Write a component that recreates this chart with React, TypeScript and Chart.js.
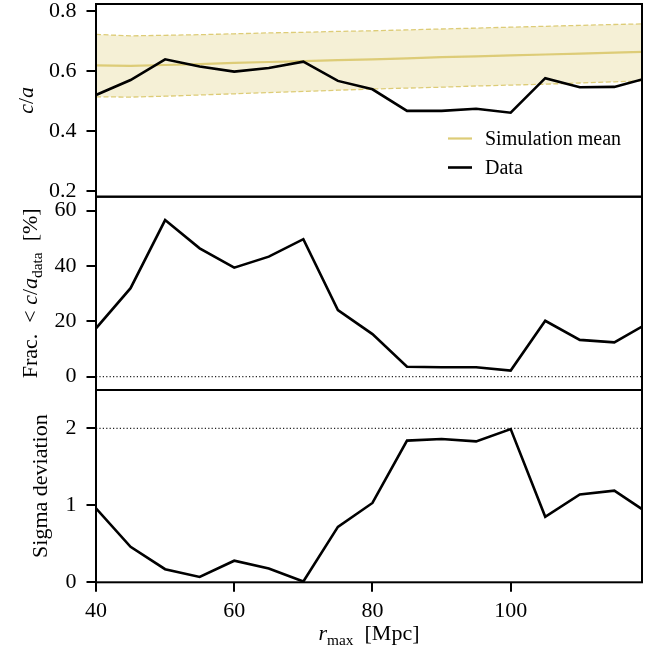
import React, { useEffect, useRef } from "react";
import { Chart, registerables } from "chart.js";

Chart.register(...registerables);

// ---------------- data ----------------
const rMax = [40, 45, 50, 55, 60, 65, 70, 75, 80, 85, 90, 95, 100, 105, 110, 115, 119];
const dataCA = [0.52, 0.57, 0.639, 0.615, 0.598, 0.61, 0.631, 0.567, 0.539, 0.467, 0.467, 0.474, 0.461, 0.576, 0.546, 0.547, 0.572];
const simMean = [0.619, 0.617, 0.62, 0.623, 0.627, 0.63, 0.633, 0.636, 0.639, 0.642, 0.646, 0.649, 0.652, 0.655, 0.658, 0.661, 0.664];
const simUpper = [0.722, 0.717, 0.719, 0.721, 0.724, 0.727, 0.729, 0.732, 0.734, 0.737, 0.74, 0.743, 0.746, 0.749, 0.752, 0.755, 0.757];
const simLower = [0.514, 0.513, 0.516, 0.52, 0.524, 0.528, 0.532, 0.536, 0.54, 0.543, 0.546, 0.55, 0.553, 0.556, 0.56, 0.564, 0.567];
const fracBelow = [17.5, 32, 56.6, 46.4, 39.4, 43.4, 49.7, 24.1, 15.4, 3.6, 3.4, 3.4, 2.2, 20.2, 13.3, 12.4, 18.1];
const sigmaDev = [0.96, 0.46, 0.17, 0.07, 0.28, 0.18, 0.01, 0.72, 1.03, 1.84, 1.86, 1.83, 1.99, 0.85, 1.14, 1.19, 0.95];
const fracRef = 0;
const sigmaRef = 2;

const xTicks = [40, 60, 80, 100];
const caTicks = [0.2, 0.4, 0.6, 0.8];
const fracTicks = [0, 20, 40, 60];
const sigmaTicks = [0, 1, 2];
const legendLabels = ["Simulation mean", "Data"];

// ---------------- style ----------------
const SERIF = '"Liberation Serif", "Times New Roman", serif';
const GOLD = "#DDCC77";
const GOLD_FILL = "rgba(221,204,119,0.3)";
const W = 660;
const PLOT_RIGHT = 642;
const AXIS_W = 96;
const TICK_FONT = 22;
const TITLE_FONT = 22;
const SUB_FONT = 15.4;
const LEGEND_FONT = 20;

type Seg = { t: string; size?: number; italic?: boolean; dy?: number };

function fontOf(s: Seg) {
  return `${s.italic ? "italic " : ""}${s.size || TITLE_FONT}px ${SERIF}`;
}

function drawRich(ctx: CanvasRenderingContext2D, segs: Seg[], cx: number, cy: number, vertical: boolean) {
  ctx.save();
  ctx.translate(cx, cy);
  if (vertical) ctx.rotate(-Math.PI / 2);
  let total = 0;
  const widths = segs.map((s) => {
    ctx.font = fontOf(s);
    const w = ctx.measureText(s.t).width;
    total += w;
    return w;
  });
  let x = -total / 2;
  ctx.fillStyle = "#000";
  ctx.textBaseline = "alphabetic";
  ctx.textAlign = "left";
  segs.forEach((s, i) => {
    ctx.font = fontOf(s);
    ctx.fillText(s.t, x, s.dy || 0);
    x += widths[i];
  });
  ctx.restore();
}

const pts = (ys: number[]) => rMax.map((x, i) => ({ x, y: ys[i] }));
const refLine = (v: number) => [
  { x: rMax[0], y: v },
  { x: rMax[rMax.length - 1], y: v },
];

interface PanelSpec {
  top: number;
  height: number;
  areaTop: number; // page y of chart area top
  areaBottom: number; // page y of chart area bottom
  yMin: number;
  yMax: number;
  yTicks: number[];
  yFmt: (v: number) => string;
  datasets: any[];
  yTitle: Seg[];
  yTitleX: number; // baseline x
  showX: boolean;
  legend?: boolean;
}

const panels: PanelSpec[] = [
  {
    top: 0,
    height: 215,
    areaTop: 4,
    areaBottom: 196.7,
    yMin: 0.181,
    yMax: 0.8233,
    yTicks: caTicks,
    yFmt: (v) => v.toFixed(1),
    datasets: [
      { label: "Data", data: pts(dataCA), borderColor: "#000", borderWidth: 2.6, order: 0, fill: false },
      { label: "Simulation mean", data: pts(simMean), borderColor: GOLD, borderWidth: 2.2, order: 1, fill: false },
      {
        label: "upper",
        data: pts(simUpper),
        borderColor: GOLD,
        borderWidth: 1.3,
        borderDash: [5, 2.5],
        fill: "+1",
        backgroundColor: GOLD_FILL,
        order: 2,
      },
      { label: "lower", data: pts(simLower), borderColor: GOLD, borderWidth: 1.3, borderDash: [5, 2.5], fill: false, order: 3 },
    ],
    yTitle: [{ t: "c", italic: true }, { t: "/" }, { t: "a", italic: true }],
    yTitleX: 33,
    showX: false,
    legend: true,
  },
  {
    top: 186,
    height: 214,
    areaTop: 196.7,
    areaBottom: 390,
    yMin: -4.81,
    yMax: 65.06,
    yTicks: fracTicks,
    yFmt: (v) => String(v),
    datasets: [
      { label: "frac", data: pts(fracBelow), borderColor: "#000", borderWidth: 2.6, order: 0, fill: false },
      { label: "ref", data: refLine(fracRef), borderColor: "#222", borderWidth: 1.2, borderDash: [1.2, 2.2], order: 1, fill: false },
    ],
    yTitle: [
      { t: "Frac.  " },
      { t: "<" },
      { t: " " },
      { t: "c", italic: true },
      { t: "/" },
      { t: "a", italic: true },
      { t: "data", size: SUB_FONT, dy: 4.5 },
      { t: "  [%]" },
    ],
    yTitleX: 37,
    showX: false,
  },
  {
    top: 380,
    height: 271,
    areaTop: 390,
    areaBottom: 582.3,
    yMin: 0,
    yMax: 2.497,
    yTicks: sigmaTicks,
    yFmt: (v) => String(v),
    datasets: [
      { label: "sigma", data: pts(sigmaDev), borderColor: "#000", borderWidth: 2.6, order: 0, fill: false },
      { label: "ref", data: refLine(sigmaRef), borderColor: "#222", borderWidth: 1.2, borderDash: [1.2, 2.2], order: 1, fill: false },
    ],
    yTitle: [{ t: "Sigma deviation" }],
    yTitleX: 47,
    showX: true,
  },
];

const xTitle: Seg[] = [{ t: "r", italic: true }, { t: "max", size: SUB_FONT, dy: 4.5 }, { t: "  [Mpc]" }];

function makeChart(canvas: HTMLCanvasElement, p: PanelSpec) {
  const padTop = p.areaTop - p.top;
  const areaBottomLocal = p.areaBottom - p.top;
  const xAxisH = p.showX ? p.height - areaBottomLocal : 0;
  const padBottom = p.showX ? 0 : p.height - areaBottomLocal;

  const decor = {
    id: "decor",
    afterDraw(chart: any) {
      const ctx: CanvasRenderingContext2D = chart.ctx;
      const a = chart.chartArea;
      ctx.save();
      ctx.strokeStyle = "#000";
      ctx.lineWidth = 2;
      ctx.strokeRect(a.left, a.top, a.right - a.left, a.bottom - a.top);
      ctx.restore();
      drawRich(ctx, p.yTitle, p.yTitleX, (a.top + a.bottom) / 2, true);
      if (p.showX) {
        drawRich(ctx, xTitle, (a.left + a.right) / 2, 640 - p.top, false);
      }
      if (p.legend) {
        const rows = [138.5, 167.5];
        legendLabels.forEach((lab, i) => {
          const ds = chart.data.datasets.find((d: any) => d.label === lab);
          const y = rows[i] - p.top;
          ctx.save();
          ctx.strokeStyle = ds.borderColor;
          ctx.lineWidth = ds.borderWidth;
          ctx.beginPath();
          ctx.moveTo(448, y);
          ctx.lineTo(472, y);
          ctx.stroke();
          ctx.fillStyle = "#000";
          ctx.font = `${LEGEND_FONT}px ${SERIF}`;
          ctx.textBaseline = "middle";
          ctx.textAlign = "left";
          ctx.fillText(lab, 485, y + 1);
          ctx.restore();
        });
      }
    },
  };

  return new Chart(canvas, {
    type: "line",
    data: { datasets: p.datasets },
    plugins: [decor],
    options: {
      responsive: false,
      animation: false,
      devicePixelRatio: 1,
      layout: { padding: { left: 0, right: W - PLOT_RIGHT, top: padTop, bottom: padBottom } },
      elements: { point: { radius: 0 }, line: { tension: 0 } },
      plugins: { legend: { display: false }, tooltip: { enabled: false } },
      scales: {
        x: {
          type: "linear",
          min: rMax[0],
          max: rMax[rMax.length - 1],
          display: p.showX,
          afterBuildTicks: (axis: any) => {
            axis.ticks = xTicks.map((v) => ({ value: v }));
          },
          afterFit: (axis: any) => {
            axis.height = xAxisH;
            axis.paddingLeft = 0;
            axis.paddingRight = 0;
          },
          ticks: {
            font: { family: SERIF, size: TICK_FONT },
            color: "#000",
            padding: 6,
            maxRotation: 0,
            autoSkip: false,
            callback: (v: any) => String(v),
          },
          grid: { drawOnChartArea: false, drawTicks: true, tickLength: 9.5, color: "#000", lineWidth: 2 },
          border: { display: false },
        },
        y: {
          type: "linear",
          min: p.yMin,
          max: p.yMax,
          afterBuildTicks: (axis: any) => {
            axis.ticks = p.yTicks.map((v) => ({ value: v }));
          },
          afterFit: (axis: any) => {
            axis.width = AXIS_W;
            axis.paddingTop = 0;
            axis.paddingBottom = 0;
          },
          ticks: {
            font: { family: SERIF, size: TICK_FONT },
            color: "#000",
            padding: 10,
            callback: (v: any) => p.yFmt(Number(v)),
          },
          grid: { drawOnChartArea: false, drawTicks: true, tickLength: 9.5, color: "#000", lineWidth: 2 },
          border: { display: false },
        },
      },
    } as any,
  });
}

export default function App() {
  const r0 = useRef<HTMLCanvasElement>(null);
  const r1 = useRef<HTMLCanvasElement>(null);
  const r2 = useRef<HTMLCanvasElement>(null);

  useEffect(() => {
    const refs = [r0, r1, r2];
    const charts = panels.map((p, i) => makeChart(refs[i].current as HTMLCanvasElement, p));
    return () => charts.forEach((c) => c.destroy());
  }, []);

  const refs = [r0, r1, r2];
  return (
    <div style={{ position: "absolute", left: 0, top: 0, width: W, height: 651, background: "#fff" }}>
      {panels.map((p, i) => (
        <canvas
          key={i}
          ref={refs[i]}
          width={W}
          height={p.height}
          style={{ position: "absolute", left: 0, top: p.top, width: W, height: p.height, display: "block" }}
        />
      ))}
    </div>
  );
}
